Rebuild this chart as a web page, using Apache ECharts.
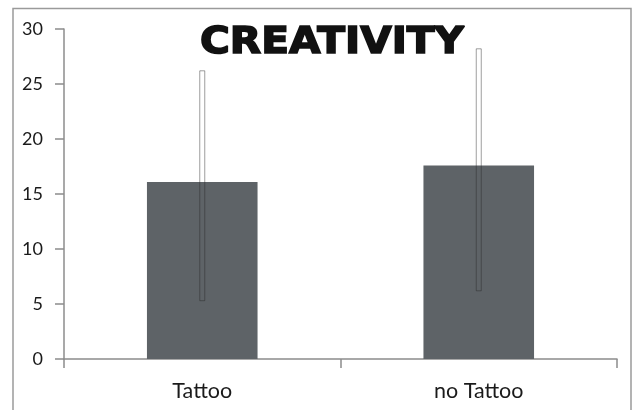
<!DOCTYPE html>
<html>
<head>
<meta charset="utf-8">
<script src="https://cdn.jsdelivr.net/npm/echarts@6/dist/echarts.min.js"></script>
<style>
html,body{margin:0;padding:0;background:#fff;}
#c{width:634px;height:410px;}
</style>
</head>
<body>
<div id="c"></div>
<script>
var titleText = 'CREATIVITY';
var categories = ['Tattoo', 'no Tattoo'];
var means = [16.1, 17.6];
var errLow = [5.3, 6.2];
var errHigh = [26.2, 28.2];
var yTicks = { min: 0, max: 30, interval: 5 };

var errData = categories.map(function (c, i) { return [i, errLow[i], errHigh[i]]; });

var chart = echarts.init(document.getElementById('c'));
chart.setOption({
  animation: false,
  backgroundColor: '#fff',
  graphic: [
    {
      type: 'rect',
      shape: { x: 13, y: 8.5, width: 618, height: 420 },
      style: { fill: 'none', stroke: '#9a9a9a', lineWidth: 1.5 },
      silent: true,
      z: -1
    },
    {
      type: 'text',
      x: 332,
      y: 43,
      scaleX: 1.1,
      style: {
        text: titleText,
        fontFamily: '"DejaVu Sans"',
        fontWeight: 'bold',
        fontSize: 37,
        fill: '#111',
        stroke: '#111',
        lineWidth: 1.6,
        textAlign: 'center',
        textVerticalAlign: 'middle'
      },
      z: 10
    }
  ],
  grid: { left: 64, right: 17, top: 29, bottom: 51, containLabel: false },
  xAxis: {
    type: 'category',
    data: categories,
    axisLine: { lineStyle: { color: '#8c8c8c', width: 1.5 } },
    axisTick: { show: true, length: 9, lineStyle: { color: '#8c8c8c', width: 1.5 } },
    axisLabel: { color: '#1a1a1a', fontFamily: 'Lato', fontSize: 21.5, margin: 21 },
    splitLine: { show: false }
  },
  yAxis: {
    type: 'value',
    min: yTicks.min,
    max: yTicks.max,
    interval: yTicks.interval,
    axisLine: { show: true, lineStyle: { color: '#8c8c8c', width: 1.5 } },
    axisTick: { show: true, length: 9, lineStyle: { color: '#8c8c8c', width: 1.5 } },
    axisLabel: { color: '#1a1a1a', fontFamily: 'Lato', fontSize: 18, margin: 21 },
    splitLine: { show: false }
  },
  series: [
    {
      type: 'bar',
      data: means,
      barWidth: '40%',
      itemStyle: { color: '#5e6367' },
      z: 2
    },
    {
      type: 'custom',
      data: errData,
      encode: { x: 0, y: [1, 2] },
      z: 5,
      renderItem: function (params, api) {
        var lo = api.coord([api.value(0), api.value(1)]);
        var hi = api.coord([api.value(0), api.value(2)]);
        var w = 5;
        return {
          type: 'rect',
          shape: { x: lo[0] - w / 2, y: hi[1], width: w, height: lo[1] - hi[1] },
          style: { fill: 'rgba(255,255,255,0)', stroke: 'rgba(40,40,40,0.45)', lineWidth: 1 }
        };
      }
    }
  ]
});
</script>
</body>
</html>
